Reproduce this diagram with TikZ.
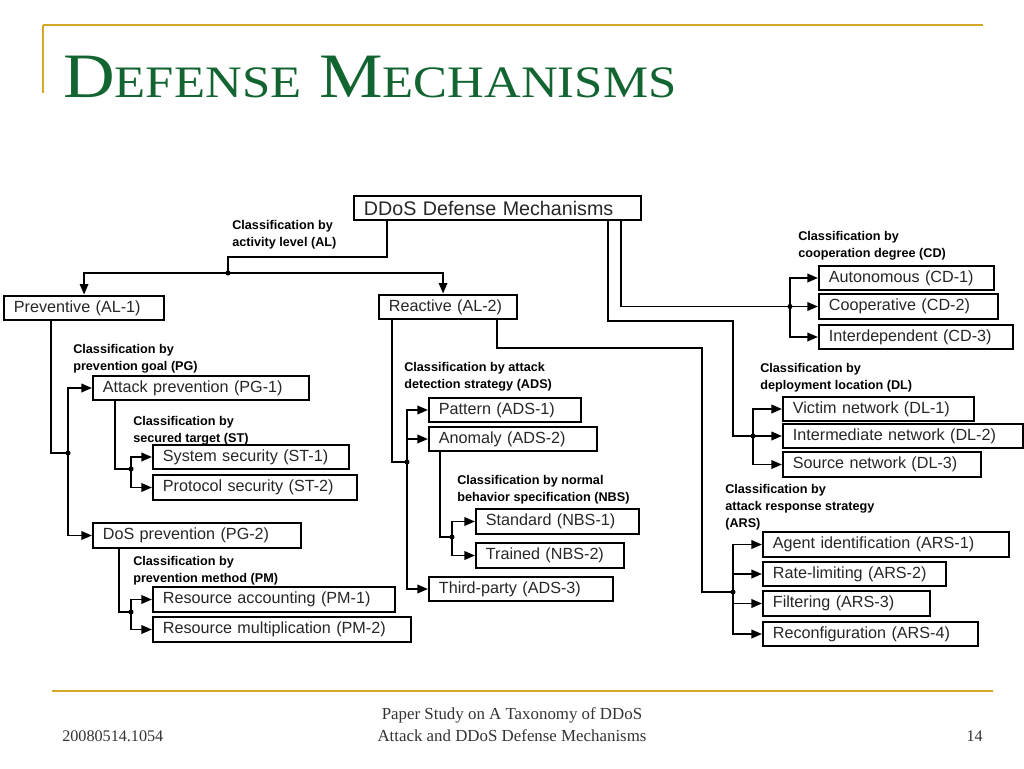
\documentclass[tikz,border=0pt]{standalone}
\usepackage{fontspec}
\setmainfont{Liberation Serif}
\newfontfamily\diafont{Liberation Sans}
\newfontfamily\titlefont[FakeStretch=1.13]{Liberation Serif}
\usepackage{xcolor}
\usetikzlibrary{positioning}
\usetikzlibrary{arrows.meta}
\usetikzlibrary{calc}
\definecolor{titlegreen}{RGB}{18,100,48}
\definecolor{rulegold}{RGB}{214,166,38}
\begin{document}
\begin{tikzpicture}[
  x=0.25mm, y=-0.25mm,
  box/.style={
    rectangle,
    draw=black,
    line width=1.5pt,
    anchor=west,
    inner xsep=7pt,
    inner ysep=0pt,
    minimum height=6.2mm,
    text width=#1*0.25mm-14pt,
    align=left,
    text=black!85,
    font=\diafont\fontsize{11.5}{13}\selectfont
  },
  cls/.style={
    anchor=north west,
    inner sep=0pt,
    align=left,
    font=\diafont\bfseries\fontsize{9}{12.1}\selectfont
  },
  link/.style={line width=1.4pt},
  arr/.style={line width=1.4pt, -{Triangle[length=7.5pt,width=6pt]}}
]
\useasboundingbox (0,0) rectangle (1024,768);
% slide frame
\draw[rulegold, line width=1.5pt] (43,25) -- (983,25);
\draw[rulegold, line width=1.2pt] (43,25) -- (43,93);
\draw[rulegold, line width=2pt] (52,691) -- (993,691);
\node[anchor=base west, inner sep=0pt, text=titlegreen,
  font=\titlefont\fontsize{45}{45}\selectfont] (title) at (63,97)
  {D{\fontsize{32}{32}\selectfont EFENSE} M{\fontsize{32}{32}\selectfont ECHANISMS}};
\node[anchor=base west, inner sep=0pt, text=black!80, font=\fontsize{11.5}{14}\selectfont] (date) at (62,741) {20080514.1054};
\node[anchor=base, inner sep=0pt, align=center, text=black!80,
  font=\fontsize{12}{15.6}\selectfont] (foot) at (512,741)
  {Paper Study on A Taxonomy of DDoS\\Attack and DDoS Defense Mechanisms};
\node[anchor=base east, inner sep=0pt, text=black!80, font=\fontsize{11.5}{14}\selectfont] (page) at (983,741) {14};
% root and activity level
\node[box=287, font=\diafont\fontsize{14}{16}\selectfont] (ddos) at (353,208) {DDoS Defense Mechanisms};
\node[box=160] (prev)  at (3,308)   {Preventive (AL-1)};
\node[box=138] (react) at (378,307) {Reactive (AL-2)};
\node[cls] (al) at (232,220) {Classification by\\activity level (AL)};
\coordinate (alj) at (228,273);
\draw[link] ($(ddos.south west)+(34,0)$) |- ($(alj)+(0,-16)$) -- (alj);
\draw[arr] (alj) -| (prev.north);
\draw[arr] (alj) -| ($(react.north)+(-5,0)$);
% cooperation degree
\node[box=175] (cd1) at (818,278)   {Autonomous (CD-1)};
\node[box=179] (cd2) at (818,306.5) {Cooperative (CD-2)};
\node[box=194] (cd3) at (818,337)   {Interdependent (CD-3)};
\node[cls] (cd) at (798,231) {Classification by\\cooperation degree (CD)};
\coordinate (cdj) at (790,306.5);
\draw[link] ($(ddos.south east)+(-21,0)$) |- (cdj);
\foreach \k in {cd1,cd2,cd3} \draw[arr] (cdj) |- (\k.west);
% deployment location
\node[box=191] (dl1) at (782,409)   {Victim network (DL-1)};
\node[box=240] (dl2) at (782,436)   {Intermediate network (DL-2)};
\node[box=198] (dl3) at (782,464.5) {Source network (DL-3)};
\node[cls] (dl) at (760,363) {Classification by\\deployment location (DL)};
\coordinate (dlj) at (753,436);
\draw[link] ($(ddos.south east)+(-34,0)$) -- ++(0,100) -| ($(dlj)+(-20,0)$) -- (dlj);
\foreach \k in {dl1,dl2,dl3} \draw[arr] (dlj) |- (\k.west);
% attack response strategy
\node[box=246] (ars1) at (762,544.5) {Agent identification (ARS-1)};
\node[box=183] (ars2) at (762,574)   {Rate-limiting (ARS-2)};
\node[box=167] (ars3) at (762,603.5) {Filtering (ARS-3)};
\node[box=215] (ars4) at (762,634)   {Reconfiguration (ARS-4)};
\node[cls] (ars) at (725,484) {Classification by\\attack response strategy\\(ARS)};
\coordinate (arsj) at (733,592);
\draw[link] ($(react.south east)+(-21,0)$) -- ++(0,28) -| ($(arsj)+(-31,0)$) -- (arsj);
\foreach \k in {ars1,ars2,ars3,ars4} \draw[arr] (arsj) |- (\k.west);
% prevention goal
\node[box=216] (pg1) at (92,388)   {Attack prevention (PG-1)};
\node[box=208] (pg2) at (92,535.5) {DoS prevention (PG-2)};
\node[cls] (pg) at (73,344) {Classification by\\prevention goal (PG)};
\coordinate (pgj) at (68,453);
\draw[link] ($(prev.south west)+(48,0)$) |- (pgj);
\foreach \k in {pg1,pg2} \draw[arr] (pgj) |- (\k.west);
% secured target
\node[box=196] (st1) at (152,457)   {System security (ST-1)};
\node[box=204] (st2) at (152,487.5) {Protocol security (ST-2)};
\node[cls] (st) at (133,416) {Classification by\\secured target (ST)};
\coordinate (stj) at (131,469);
\draw[link] ($(pg1.south west)+(23,0)$) |- (stj);
\foreach \k in {st1,st2} \draw[arr] (stj) |- (\k.west);
% prevention method
\node[box=242] (pm1) at (152,599.5) {Resource accounting (PM-1)};
\node[box=258] (pm2) at (152,629.5) {Resource multiplication (PM-2)};
\node[cls] (pm) at (133,556) {Classification by\\prevention method (PM)};
\coordinate (pmj) at (131,612);
\draw[link] ($(pg2.south west)+(27,0)$) |- (pmj);
\foreach \k in {pm1,pm2} \draw[arr] (pmj) |- (\k.west);
% attack detection strategy
\node[box=152] (ads1) at (428,410) {Pattern (ADS-1)};
\node[box=168] (ads2) at (428,439) {Anomaly (ADS-2)};
\node[box=184] (ads3) at (428,589) {Third-party (ADS-3)};
\node[cls] (ads) at (404,362) {Classification by attack\\detection strategy (ADS)};
\coordinate (adsj) at (407,462);
\draw[link] ($(react.south west)+(14,0)$) |- (adsj);
\foreach \k in {ads1,ads2,ads3} \draw[arr] (adsj) |- (\k.west);
% normal behavior specification
\node[box=163] (nbs1) at (475,521.5) {Standard (NBS-1)};
\node[box=148] (nbs2) at (475,555.5) {Trained (NBS-2)};
\node[cls] (nbs) at (457,475) {Classification by normal\\behavior specification (NBS)};
\coordinate (nbsj) at (452,537);
\draw[link] ($(ads2.south west)+(12,0)$) |- (nbsj);
\foreach \k in {nbs1,nbs2} \draw[arr] (nbsj) |- (\k.west);
% junction dots
\foreach \j in {alj,cdj,dlj,arsj,pgj,stj,pmj,adsj,nbsj} \fill (\j) circle (1.8pt);
\end{tikzpicture}
\end{document}
